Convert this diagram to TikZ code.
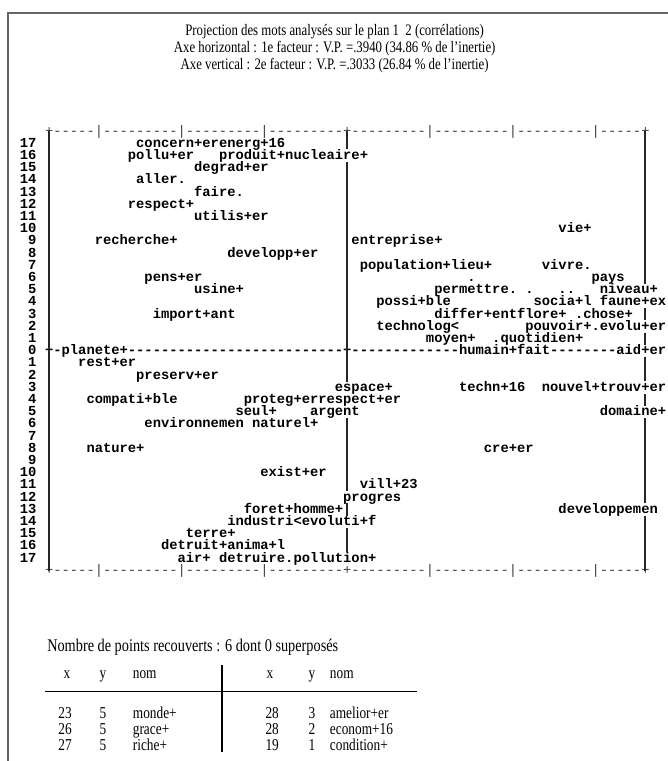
\documentclass[tikz,border=0pt]{standalone}
\usepackage{fontspec}
\usepackage{tikz}
\newfontfamily\plotfont{Liberation Mono}[Ligatures=TeXOff]
\newfontfamily\titlefont[FakeStretch=0.8]{Liberation Serif}

\begin{document}
\begin{tikzpicture}[x=6.21pt, y=9.15pt]
    \tikzstyle{mot}=[
        anchor = base west,
        inner sep = 0pt,
        font = \plotfont\bfseries\fontsize{10.35}{10}\selectfont
    ]
    \tikzstyle{rang}=[
        anchor = base east,
        inner sep = 0pt,
        font = \plotfont\bfseries\fontsize{10.35}{10}\selectfont
    ]
    \tikzstyle{regle}=[
        anchor = base west,
        inner sep = 0pt,
        black!75,
        font = \plotfont\fontsize{10.35}{10}\selectfont
    ]
    \tikzstyle{titre}=[
        anchor = base,
        inner sep = 0pt,
        font = \titlefont\fontsize{12}{14}\selectfont
    ]
    \tikzstyle{texte}=[
        inner sep = 0pt,
        font = \titlefont\fontsize{12.5}{14}\selectfont
    ]
    \tikzstyle{trait}=[line width = 1.1pt, black!85]
    \tikzstyle{cadre}=[line width = 1.5pt, black!60]

    \useasboundingbox[fill=white] (-5.918, -33.61) rectangle (74.76, 28.77);
    \draw[cadre] (-4.95, -34) -- (-4.95, 27.7) -- (76, 27.7);

	\node[titre] (titre1) at (34.5, 25.85) {Projection des mots analysés sur le plan 1\ \ 2 (corrélations)};
	\node[titre] (titre2) at (34.5, 24.45) {Axe horizontal : 1e facteur : V.P. =.3940 (34.86 \% de l’inertie)};
	\node[titre] (titre3) at (34.5, 23.05) {Axe vertical : 2e facteur : V.P. =.3033 (26.84 \% de l’inertie)};

	\node[regle] (haut) at (-0.5, 17.7)  {+-----|---------|---------|---------+---------|---------|---------|-----+};
	\node[regle] (bas)  at (-0.5, -18.3) {+-----|---------|---------|---------+---------|---------|---------|-----+};
	\node[mot]   (axeh) at (-0.5, -0.3)  {+-planete+--------------------------+-------------humain+fait--------aid+er};

	\node[rang] (r17) at (-1.5, 16.7)  {17};
	\node[rang] (r16) at (-1.5, 15.7)  {16};
	\node[rang] (r15) at (-1.5, 14.7)  {15};
	\node[rang] (r14) at (-1.5, 13.7)  {14};
	\node[rang] (r13) at (-1.5, 12.7)  {13};
	\node[rang] (r12) at (-1.5, 11.7)  {12};
	\node[rang] (r11) at (-1.5, 10.7)  {11};
	\node[rang] (r10) at (-1.5, 9.7)   {10};
	\node[rang] (r9)  at (-1.5, 8.7)   {9};
	\node[rang] (r8)  at (-1.5, 7.7)   {8};
	\node[rang] (r7)  at (-1.5, 6.7)   {7};
	\node[rang] (r6)  at (-1.5, 5.7)   {6};
	\node[rang] (r5)  at (-1.5, 4.7)   {5};
	\node[rang] (r4)  at (-1.5, 3.7)   {4};
	\node[rang] (r3)  at (-1.5, 2.7)   {3};
	\node[rang] (r2)  at (-1.5, 1.7)   {2};
	\node[rang] (r1)  at (-1.5, 0.7)   {1};
	\node[rang] (r0)  at (-1.5, -0.3)  {0};
	\node[rang] (s1)  at (-1.5, -1.3)  {1};
	\node[rang] (s2)  at (-1.5, -2.3)  {2};
	\node[rang] (s3)  at (-1.5, -3.3)  {3};
	\node[rang] (s4)  at (-1.5, -4.3)  {4};
	\node[rang] (s5)  at (-1.5, -5.3)  {5};
	\node[rang] (s6)  at (-1.5, -6.3)  {6};
	\node[rang] (s7)  at (-1.5, -7.3)  {7};
	\node[rang] (s8)  at (-1.5, -8.3)  {8};
	\node[rang] (s9)  at (-1.5, -9.3)  {9};
	\node[rang] (s10) at (-1.5, -10.3) {10};
	\node[rang] (s11) at (-1.5, -11.3) {11};
	\node[rang] (s12) at (-1.5, -12.3) {12};
	\node[rang] (s13) at (-1.5, -13.3) {13};
	\node[rang] (s14) at (-1.5, -14.3) {14};
	\node[rang] (s15) at (-1.5, -15.3) {15};
	\node[rang] (s16) at (-1.5, -16.3) {16};
	\node[rang] (s17) at (-1.5, -17.3) {17};

	\node[mot] (concern)     at (10.5, 16.7)  {concern+erenerg+16};
	\node[mot] (pollu)       at (9.5, 15.7)   {pollu+er};
	\node[mot] (produit)     at (20.5, 15.7)  {produit+nucleaire+};
	\node[mot] (degrad)      at (17.5, 14.7)  {degrad+er};
	\node[mot] (aller)       at (10.5, 13.7)  {aller.};
	\node[mot] (faire)       at (17.5, 12.7)  {faire.};
	\node[mot] (respect)     at (9.5, 11.7)   {respect+};
	\node[mot] (utilis)      at (17.5, 10.7)  {utilis+er};
	\node[mot] (vie)         at (61.5, 9.7)   {vie+};
	\node[mot] (recherche)   at (5.5, 8.7)    {recherche+};
	\node[mot] (entreprise)  at (36.5, 8.7)   {entreprise+};
	\node[mot] (developp)    at (21.5, 7.7)   {developp+er};
	\node[mot] (population)  at (37.5, 6.7)   {population+lieu+};
	\node[mot] (vivre)       at (59.5, 6.7)   {vivre.};
	\node[mot] (pens)        at (11.5, 5.7)   {pens+er};
	\node[mot] (point)       at (50.5, 5.7)   {.};
	\node[mot] (pays)        at (65.5, 5.7)   {pays};
	\node[mot] (usine)       at (17.5, 4.7)   {usine+};
	\node[mot] (permettre)   at (46.5, 4.7)   {permettre.};
	\node[mot] (pointa)      at (57.5, 4.7)   {.};
	\node[mot] (pointb)      at (61.5, 4.7)   {..};
	\node[mot] (niveau)      at (66.5, 4.7)   {niveau+};
	\node[mot] (possible)    at (39.5, 3.7)   {possi+ble};
	\node[mot] (social)      at (58.5, 3.7)   {socia+l};
	\node[mot] (faune)       at (66.5, 3.7)   {faune+ex};
	\node[mot] (import)      at (12.5, 2.7)   {import+ant};
	\node[mot] (differ)      at (46.5, 2.7)   {differ+entflore+};
	\node[mot] (chose)       at (63.5, 2.7)   {.chose+};
	\node[mot] (technolog)   at (39.5, 1.7)   {technolog<};
	\node[mot] (pouvoir)     at (57.5, 1.7)   {pouvoir+.evolu+er};
	\node[mot] (moyen)       at (45.5, 0.7)   {moyen+};
	\node[mot] (quotidien)   at (53.5, 0.7)   {.quotidien+};
	\node[mot] (rest)        at (3.5, -1.3)   {rest+er};
	\node[mot] (preserv)     at (10.5, -2.3)  {preserv+er};
	\node[mot] (espace)      at (34.5, -3.3)  {espace+};
	\node[mot] (techn)       at (49.5, -3.3)  {techn+16};
	\node[mot] (nouvel)      at (59.5, -3.3)  {nouvel+trouv+er};
	\node[mot] (compatible)  at (4.5, -4.3)   {compati+ble};
	\node[mot] (proteg)      at (23.5, -4.3)  {proteg+errespect+er};
	\node[mot] (seul)        at (22.5, -5.3)  {seul+};
	\node[mot] (argent)      at (31.5, -5.3)  {argent};
	\node[mot] (domaine)     at (66.5, -5.3)  {domaine+};
	\node[mot] (environ)     at (11.5, -6.3)  {environnemen};
	\node[mot] (naturel)     at (24.5, -6.3)  {naturel+};
	\node[mot] (nature)      at (4.5, -8.3)   {nature+};
	\node[mot] (creer)       at (52.5, -8.3)  {cre+er};
	\node[mot] (exist)       at (25.5, -10.3) {exist+er};
	\node[mot] (vill)        at (37.5, -11.3) {vill+23};
	\node[mot] (progres)     at (35.5, -12.3) {progres};
	\node[mot] (foret)       at (23.5, -13.3) {foret+homme+};
	\node[mot] (developpem)  at (61.5, -13.3) {developpemen};
	\node[mot] (industri)    at (21.5, -14.3) {industri<evoluti+f};
	\node[mot] (terre)       at (16.5, -15.3) {terre+};
	\node[mot] (detruit)     at (13.5, -16.3) {detruit+anima+l};
	\node[mot] (air)         at (15.5, -17.3) {air+ detruire.pollution+};

	\draw[trait] (0, 18) -- (0, -18);
	\draw[trait] (36, 18) -- (36, 16.55);
	\draw[trait] (36, 15.5) -- (36, -2.55);
	\draw[trait] (36, -5.5) -- (36, -11.5);
	\draw[trait] (36, -12.5) -- (36, -13.5);
	\draw[trait] (36, -14.5) -- (36, -16.5);
	\draw[trait] (72, 18) -- (72, 5.5);
	\draw[trait] (72, 3.5) -- (72, 2.5);
	\draw[trait] (72, 1.5) -- (72, 0.5);
	\draw[trait] (72, -0.5) -- (72, -2.5);
	\draw[trait] (72, -3.5) -- (72, -4.5);
	\draw[trait] (72, -5.5) -- (72, -12.5);
	\draw[trait] (72, -13.5) -- (72, -18);

	\node[texte, anchor=base west, font=\titlefont\fontsize{13.4}{15}\selectfont] (nombre) at (-0.24, -24.66) {Nombre de points recouverts : 6 dont 0 superposés};

	\node[texte, anchor=base]      (hx1)   at (2.17, -26.88)  {x};
	\node[texte, anchor=base]      (hy1)   at (6.52, -26.88)  {y};
	\node[texte, anchor=base west] (hnom1) at (10.1, -26.88)  {nom};
	\node[texte, anchor=base]      (hx2)   at (26.7, -26.88)  {x};
	\node[texte, anchor=base]      (hy2)   at (31.76, -26.88) {y};
	\node[texte, anchor=base west] (hnom2) at (33.9, -26.88)  {nom};
	\draw[line width=0.8pt] (-0.48, -27.95) -- (44.44, -27.95);
	\draw[line width=1pt] (20.89, -25.74) -- (20.89, -32.87);

	\node[texte, anchor=base east] (x1) at (2.78, -30.15)  {23};
	\node[texte, anchor=base east] (x2) at (2.78, -31.47)  {26};
	\node[texte, anchor=base east] (x3) at (2.78, -32.78)  {27};
	\node[texte, anchor=base]      (y1) at (6.52, -30.15)  {5};
	\node[texte, anchor=base]      (y2) at (6.52, -31.47)  {5};
	\node[texte, anchor=base]      (y3) at (6.52, -32.78)  {5};
	\node[texte, anchor=base west] (m1) at (10.1, -30.15)  {monde+};
	\node[texte, anchor=base west] (m2) at (10.1, -31.47)  {grace+};
	\node[texte, anchor=base west] (m3) at (10.1, -32.78)  {riche+};
	\node[texte, anchor=base east] (x4) at (27.8, -30.15)  {28};
	\node[texte, anchor=base east] (x5) at (27.8, -31.47)  {28};
	\node[texte, anchor=base east] (x6) at (27.8, -32.78)  {19};
	\node[texte, anchor=base]      (y4) at (31.76, -30.15) {3};
	\node[texte, anchor=base]      (y5) at (31.76, -31.47) {2};
	\node[texte, anchor=base]      (y6) at (31.76, -32.78) {1};
	\node[texte, anchor=base west] (m4) at (33.9, -30.15)  {amelior+er};
	\node[texte, anchor=base west] (m5) at (33.9, -31.47)  {econom+16};
	\node[texte, anchor=base west] (m6) at (33.9, -32.78)  {condition+};

\end{tikzpicture}
\end{document}
